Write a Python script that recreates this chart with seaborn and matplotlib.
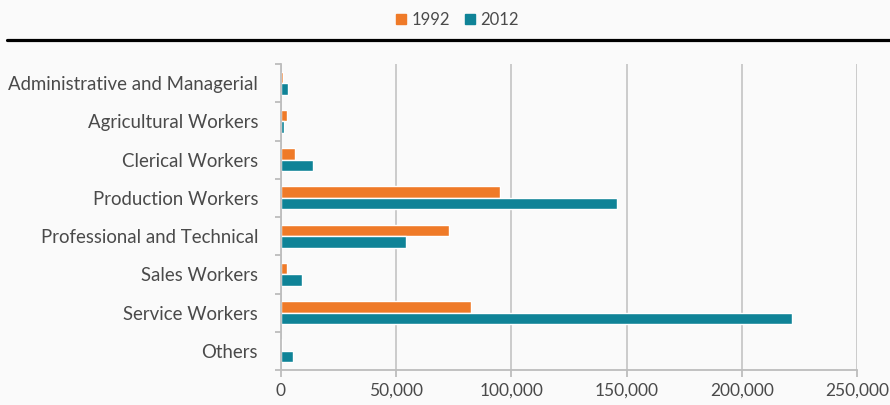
import matplotlib
matplotlib.use("Agg")
import matplotlib.pyplot as plt
from matplotlib.lines import Line2D
from matplotlib.ticker import FuncFormatter, FixedLocator
import seaborn as sns
import pandas as pd

categories = ["Administrative and Managerial", "Agricultural Workers", "Clerical Workers",
              "Production Workers", "Professional and Technical", "Sales Workers",
              "Service Workers", "Others"]
years = ["1992", "2012"]
values_1992 = [800, 2500, 6000, 95000, 73000, 2700, 82300, 500]
values_2012 = [3200, 1400, 13700, 146000, 54300, 9200, 221600, 5300]
x_ticks = [0, 50000, 100000, 150000, 200000, 250000]

df = pd.DataFrame({
    "category": categories * 2,
    "year": [years[0]] * len(categories) + [years[1]] * len(categories),
    "value": values_1992 + values_2012,
})

sns.set_theme(style="white")
plt.rcParams['font.family'] = ['Lato', 'DejaVu Sans']

bg = "#fafafa"
txt = "#4a4a4a"
fig = plt.figure(figsize=(8.9, 4.05), dpi=100, facecolor=bg)
ax = fig.add_axes([281/890, (405-370)/405, (857-281)/890, (370-64)/405])
ax.set_facecolor(bg)

palette = {"1992": "#ef7a28", "2012": "#0f8397"}
sns.barplot(data=df, y="category", x="value", hue="year", hue_order=years,
            order=categories, palette=palette, orient="h", width=0.6,
            saturation=1, ax=ax, legend=False)

ax.set_xlim(0, 250000)
ax.set_ylim(len(categories) - 0.5, -0.5)
ax.set_xticks(x_ticks)
ax.xaxis.set_major_formatter(FuncFormatter(lambda v, p: f"{int(v):,}"))
ax.set_xlabel("")
ax.set_ylabel("")
ax.grid(axis="x", color="#c8c8c8", linewidth=1.3)
ax.set_axisbelow(True)

for s in ["top", "right"]:
    ax.spines[s].set_visible(False)
for s in ["left", "bottom"]:
    ax.spines[s].set_color("#bdbdbd")
    ax.spines[s].set_linewidth(1.3)

ax.tick_params(axis="x", which="major", length=5, width=1.3, color="#bdbdbd",
               labelsize=12.5, labelcolor=txt, pad=4, bottom=True)
ax.tick_params(axis="y", which="major", length=0, labelsize=13.4,
               labelcolor=txt, pad=16.5, left=True)
ax.yaxis.set_minor_locator(FixedLocator([i - 0.5 for i in range(len(categories) + 1)]))
ax.tick_params(axis="y", which="minor", length=4, width=1.3, color="#bdbdbd", left=True)

# black rule across the top
fig.add_artist(Line2D([7/890, 1.0], [(405-40)/405]*2, color="black", linewidth=2.3,
                      transform=fig.transFigure))

handles = [plt.Rectangle((0, 0), 1, 1, color=palette[y]) for y in years]
fig.legend(handles, years, loc="center", bbox_to_anchor=(0.514, (405-20)/405), ncol=2,
           frameon=False, fontsize=12, handlelength=0.6, handleheight=0.6,
           handletextpad=0.3, columnspacing=0.9, labelcolor=txt)

fig.savefig("out.png", dpi=100, facecolor=bg)
